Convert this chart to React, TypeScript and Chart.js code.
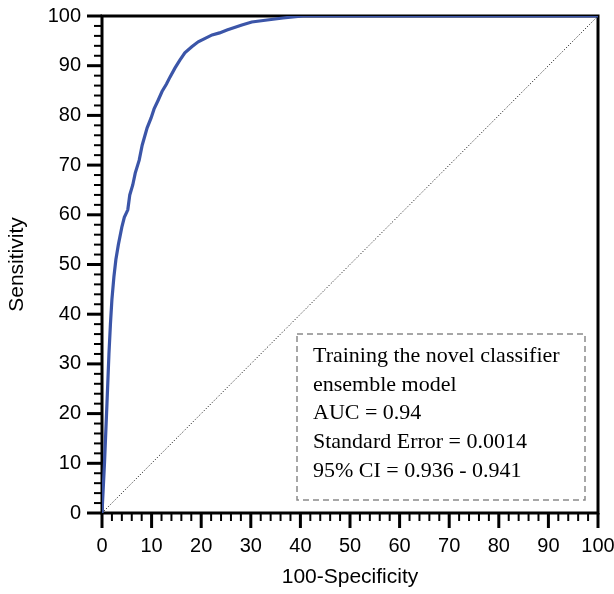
import React, { useEffect, useRef } from "react";
import { Chart, registerables } from "chart.js";

Chart.register(...registerables);

// ROC curve (100-Specificity, Sensitivity)
const fpr = [0, 0.5, 1.0, 1.4, 1.7, 2.0, 2.4, 2.8, 3.3, 3.6, 4.0, 4.5, 5.2, 5.6, 6.2, 6.7, 7.5, 8.1, 9.1, 9.9, 10.5, 11.3, 12.1, 13.0, 13.7, 14.7, 15.7, 16.7, 18.1, 19.4, 20.8, 22.2, 23.7, 25.2, 26.7, 28.2, 30.2, 33.3, 36.5, 40.5, 100];
const tpr = [0, 10, 22, 32, 38, 43, 47.5, 51, 54, 55.5, 57.5, 59.5, 61, 64, 66, 68.4, 71, 74, 77.5, 79.5, 81.3, 83, 84.8, 86.3, 87.7, 89.5, 91.1, 92.6, 93.8, 94.8, 95.5, 96.2, 96.6, 97.2, 97.7, 98.2, 98.8, 99.2, 99.6, 100, 100];

// reference diagonal
const diagX = [0, 100];
const diagY = [0, 100];

const axisMin = 0;
const axisMax = 100;
const majorStep = 10;
const minorStep = 2;

const xTitle = "100-Specificity";
const yTitle = "Sensitivity";

const legendLines = [
  "Training the novel classifier",
  "ensemble model",
  "AUC = 0.94",
  "Standard Error = 0.0014",
  "95% CI = 0.936 - 0.941",
];

const SANS = "'Liberation Sans', Arial, Helvetica, sans-serif";
const SERIF = "'Liberation Serif', 'Times New Roman', serif";

const framePlugin = {
  id: "frameTicks",
  beforeDatasetsDraw(chart: any) {
    const { ctx, chartArea: a, scales } = chart;
    const xs = scales.x;
    const ys = scales.y;
    ctx.save();
    ctx.strokeStyle = "#000";
    ctx.lineWidth = 3;
    ctx.strokeRect(a.left, a.top, a.right - a.left, a.bottom - a.top);
    for (let v = axisMin; v <= axisMax; v += minorStep) {
      const major = v % majorStep === 0;
      const len = major ? 15 : 8;
      ctx.lineWidth = major ? 3 : 2;
      const px = xs.getPixelForValue(v);
      ctx.beginPath();
      ctx.moveTo(px, a.bottom);
      ctx.lineTo(px, a.bottom + len);
      ctx.stroke();
      const py = ys.getPixelForValue(v);
      ctx.beginPath();
      ctx.moveTo(a.left, py);
      ctx.lineTo(a.left - len, py);
      ctx.stroke();
    }
    ctx.restore();
  },
  afterDraw(chart: any) {
    const { ctx, chartArea: a } = chart;
    const bx = a.left + 195;
    const by = a.top + 318;
    const bw = 288;
    const bh = 166;
    ctx.save();
    ctx.strokeStyle = "#8a8a8a";
    ctx.lineWidth = 1.5;
    ctx.setLineDash([6, 4]);
    ctx.strokeRect(bx, by, bw, bh);
    ctx.setLineDash([]);
    ctx.fillStyle = "#000";
    ctx.font = `22px ${SERIF}`;
    ctx.textAlign = "left";
    ctx.textBaseline = "alphabetic";
    legendLines.forEach((t, i) => {
      ctx.fillText(t, bx + 16, by + 28 + i * 28.7);
    });
    ctx.restore();
  },
};

export default function App() {
  const ref = useRef<HTMLCanvasElement | null>(null);

  useEffect(() => {
    if (!ref.current) return;
    const chart = new Chart(ref.current, {
      type: "line",
      data: {
        datasets: [
          {
            label: "ROC",
            data: fpr.map((x, i) => ({ x, y: tpr[i] })),
            borderColor: "#3b55a8",
            borderWidth: 3.2,
            pointRadius: 0,
            tension: 0,
            fill: false,
            order: 0,
          },
          {
            label: "Reference",
            data: diagX.map((x, i) => ({ x, y: diagY[i] })),
            borderColor: "#000",
            borderWidth: 1,
            borderDash: [1, 2],
            pointRadius: 0,
            fill: false,
            order: 1,
          },
        ],
      },
      options: {
        animation: false,
        responsive: false,
        devicePixelRatio: 1,
        layout: { padding: { top: 16, right: 16, left: 0, bottom: 0 } },
        plugins: { legend: { display: false }, tooltip: { enabled: false } },
        scales: {
          x: {
            type: "linear",
            min: axisMin,
            max: axisMax,
            grid: { display: true, drawOnChartArea: false, color: "rgba(0,0,0,0)", tickLength: 15 },
            border: { display: false },
            ticks: { stepSize: majorStep, color: "#000", font: { family: SANS, size: 20 }, padding: 6, maxRotation: 0 },
            title: { display: true, text: xTitle, color: "#000", font: { family: SANS, size: 21 }, padding: { top: 0, bottom: 4 } },
            afterFit(scale: any) {
              scale.height = 81;
              scale.paddingLeft = 0;
              scale.paddingRight = 0;
            },
          },
          y: {
            type: "linear",
            min: axisMin,
            max: axisMax,
            grid: { display: true, drawOnChartArea: false, color: "rgba(0,0,0,0)", tickLength: 15 },
            border: { display: false },
            ticks: { stepSize: majorStep, color: "#000", font: { family: SANS, size: 20 }, padding: 6 },
            title: { display: true, text: yTitle, color: "#000", font: { family: SANS, size: 21 }, padding: { top: 5, bottom: 0 } },
            afterFit(scale: any) {
              scale.width = 102;
              scale.paddingTop = 0;
              scale.paddingBottom = 0;
            },
          },
        },
      },
      plugins: [framePlugin],
    });
    return () => chart.destroy();
  }, []);

  return (
    <div style={{ position: "absolute", left: 0, top: 0, width: 614, height: 594, background: "#fff" }}>
      <canvas ref={ref} width={614} height={594} style={{ display: "block" }} />
    </div>
  );
}
